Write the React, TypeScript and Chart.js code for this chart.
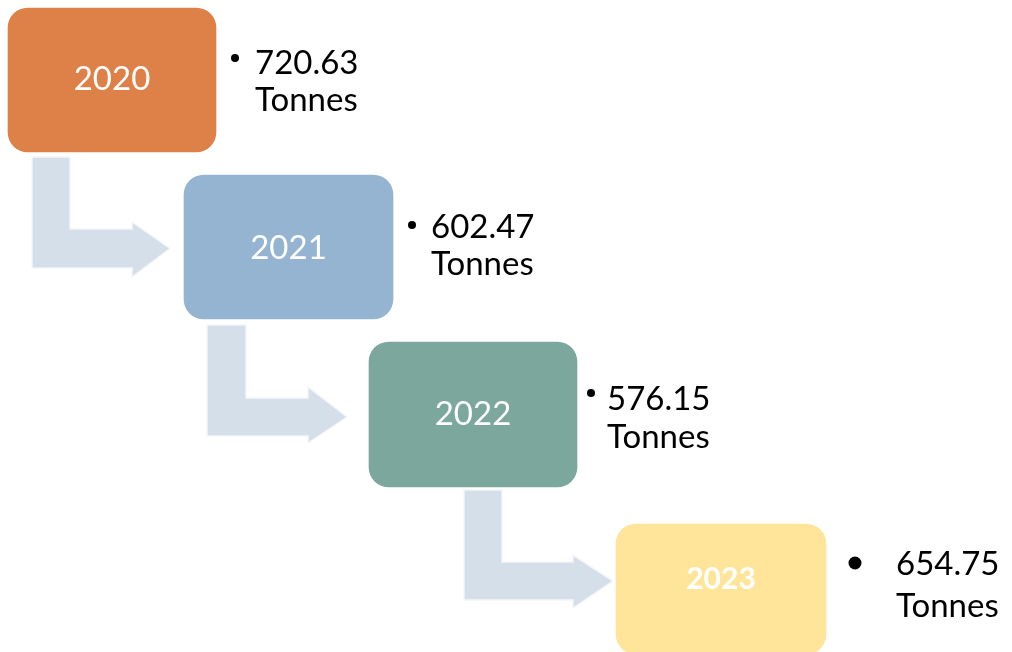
import { useEffect, useRef } from 'react';
import { Chart, registerables } from 'chart.js';

Chart.register(...registerables);

// ---- data ----
const years = ['2020', '2021', '2022', '2023'];
const tonnes = [720.63, 602.47, 576.15, 654.75];
const unit = 'Tonnes';

// ---- diagram layout (stage units, 1012 x 652) ----
const boxSpanX: [number, number][] = [[8, 216], [184, 393], [369, 577], [616, 826]];
const boxCenterY = [80, 247, 414.5, 589];
const boxHeight = [144, 144, 145, 130];
const labelCenterY = [78, 247, 413.5, 578];
const bulletPos = [[235, 58, 4], [412, 225, 4], [591, 393, 4], [855, 563, 6.5]];
const textX = [255, 431, 607, 896];
const textBase = [[74, 111], [238, 275], [410, 448], [575, 617]];
// arrows: stemLeft, stemRight, top, barTop, barBottom, headX, tipX, headTop, headBottom, tipY
const arrows = [
  [32, 70, 157, 229, 268, 132, 170, 222, 277, 248.5],
  [207, 246, 325, 398, 436, 308, 347, 387, 443, 417],
  [464, 502, 490, 562, 600, 573, 613, 555, 608, 581],
];

// ---- styles ----
const boxColors = ['#DE8149', '#95B4D2', '#7CA79C', '#FEE599'];
const arrowColor = '#D5DFEA';
const FONT = 'Lato, "Open Sans", sans-serif';

const diagramPlugin = {
  id: 'diagram',
  beforeDatasetsDraw(chart: any) {
    const { ctx, scales } = chart;
    const X = (v: number) => scales.x.getPixelForValue(v);
    const Y = (v: number) => scales.y.getPixelForValue(v);
    ctx.save();
    arrows.forEach((a) => {
      const [sL, sR, T, bT, bB, hX, tX, hT, hB, tY] = a;
      ctx.beginPath();
      ctx.moveTo(X(sL), Y(T));
      ctx.lineTo(X(sR), Y(T));
      ctx.lineTo(X(sR), Y(bT));
      ctx.lineTo(X(hX), Y(bT));
      ctx.lineTo(X(hX), Y(hT));
      ctx.lineTo(X(tX), Y(tY));
      ctx.lineTo(X(hX), Y(hB));
      ctx.lineTo(X(hX), Y(bB));
      ctx.lineTo(X(sL), Y(bB));
      ctx.closePath();
      ctx.fillStyle = arrowColor;
      ctx.fill();
      ctx.strokeStyle = '#F4F6F9';
      ctx.lineWidth = 1.5;
      ctx.stroke();
    });
    ctx.restore();
  },
  afterDatasetsDraw(chart: any) {
    const { ctx, scales } = chart;
    const X = (v: number) => scales.x.getPixelForValue(v);
    const Y = (v: number) => scales.y.getPixelForValue(v);
    ctx.save();
    years.forEach((yr, i) => {
      const cx = X((boxSpanX[i][0] + boxSpanX[i][1]) / 2);
      const last = i === years.length - 1;
      ctx.fillStyle = '#FFFFFF';
      ctx.font = last ? `bold 30px ${FONT}` : `33px ${FONT}`;
      ctx.textAlign = 'center';
      ctx.textBaseline = 'middle';
      ctx.fillText(yr, cx, Y(labelCenterY[i]) + 1);

      const [bx, by, br] = bulletPos[i];
      ctx.fillStyle = '#000000';
      ctx.beginPath();
      ctx.arc(X(bx), Y(by), br, 0, Math.PI * 2);
      ctx.fill();
      ctx.font = `33px ${FONT}`;
      ctx.textAlign = 'left';
      ctx.textBaseline = 'alphabetic';
      ctx.fillText(tonnes[i].toFixed(2), X(textX[i]), Y(textBase[i][0]));
      ctx.fillText(unit, X(textX[i]), Y(textBase[i][1]));
    });
    ctx.restore();
  },
};

export default function App() {
  const ref = useRef<HTMLCanvasElement | null>(null);
  useEffect(() => {
    if (!ref.current) return;
    const chart = new Chart(ref.current, {
      type: 'bar',
      data: {
        datasets: years.map((yr, i) => ({
          label: yr,
          data: [{ x: boxSpanX[i], y: boxCenterY[i] }] as any,
          backgroundColor: boxColors[i],
          borderRadius: 20,
          borderSkipped: false,
          barThickness: boxHeight[i],
          grouped: false,
        })),
      },
      options: {
        indexAxis: 'y',
        animation: false,
        responsive: false,
        devicePixelRatio: 1,
        events: [],
        layout: { padding: 0 },
        plugins: { legend: { display: false }, tooltip: { enabled: false } },
        scales: {
          x: { type: 'linear', min: 0, max: 1012, offset: false, display: false },
          y: { type: 'linear', min: 0, max: 652, reverse: true, offset: false, display: false },
        },
      },
      plugins: [diagramPlugin],
    });
    return () => chart.destroy();
  }, []);
  return (
    <div style={{ position: 'fixed', left: 0, top: 0, width: 1012, height: 652, background: '#fff' }}>
      <canvas ref={ref} width={1012} height={652} style={{ display: 'block' }} />
    </div>
  );
}
